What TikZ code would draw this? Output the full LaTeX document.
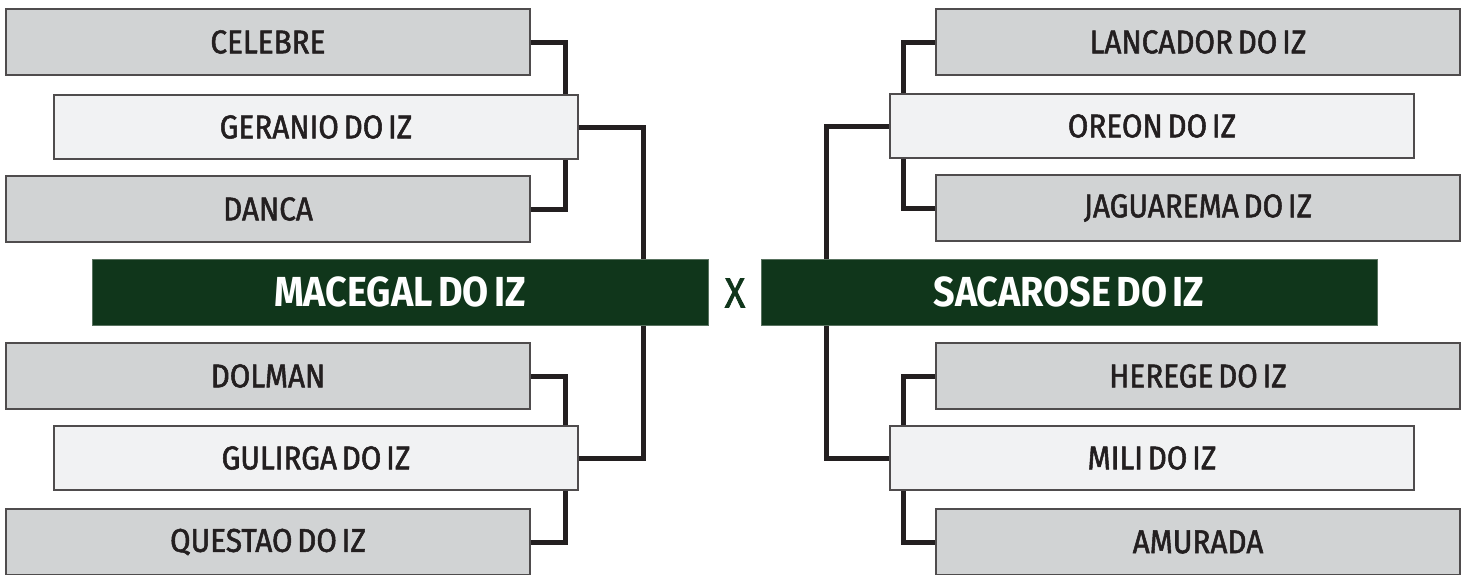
\documentclass[tikz,border=0pt]{standalone}
\usepackage{fontspec}
\setmainfont{Fira Sans}[FakeStretch=0.9, WordSpace=0.6]
\newfontfamily\namefont{Fira Sans}[FakeStretch=0.9, FakeBold=1.6, WordSpace=0.6]
\usetikzlibrary{backgrounds}
\definecolor{boxgray}{HTML}{D1D3D4}
\definecolor{boxlight}{HTML}{F1F2F3}
\definecolor{finalgreen}{HTML}{10361B}
\definecolor{inkdark}{HTML}{231F20}
\begin{document}
\begin{tikzpicture}[x=1pt, y=-1pt,
    horse/.style={draw=inkdark!80, line width=1.5pt, fill=boxgray,
                  minimum width=524pt, minimum height=66pt, inner sep=0pt,
                  text=inkdark, font=\namefont\fontsize{33}{38}\selectfont},
    sire/.style={horse, fill=boxlight, minimum height=64pt},
    final/.style={draw=finalgreen!70, line width=1pt, fill=finalgreen,
                  minimum width=616pt, minimum height=66pt, inner sep=0pt,
                  text=white, font=\fontsize{42}{48}\selectfont\bfseries},
    link/.style={draw=inkdark, line width=5pt, line join=miter}
]
  \useasboundingbox (0,0) rectangle (1469,574);

  % Left side
  \node[horse] (celebre) at (268,42)  {CELEBRE};
  \node[sire]  (geranio) at (316,127) {GERANIO DO IZ};
  \node[horse] (danca)   at (268,209) {DANCA};
  \node[final] (macegal) at (400,292) {MACEGAL DO IZ};
  \node[horse] (dolman)  at (268,376) {DOLMAN};
  \node[sire]  (gulirga) at (316,458) {GULIRGA DO IZ};
  \node[horse] (questao) at (268,542) {QUESTAO DO IZ};

  % Versus
  \node[text=finalgreen, font=\namefont\fontsize{42}{48}\selectfont] (vs) at (735,293) {X};

  % Right side
  \node[horse] (lancador)  at (1198,42)  {LANCADOR DO IZ};
  \node[sire]  (oreon)     at (1152,126) {OREON DO IZ};
  \node[horse] (jaguarema) at (1198,208) {JAGUAREMA DO IZ};
  \node[final] (sacarose)  at (1069,292) {SACAROSE DO IZ};
  \node[horse] (herege)    at (1198,376) {HEREGE DO IZ};
  \node[sire]  (mili)      at (1152,458) {MILI DO IZ};
  \node[horse] (amurada)   at (1198,542) {AMURADA};

  % Bracket columns
  \coordinate (lin)  at (565,0);
  \coordinate (lout) at (643,0);
  \coordinate (rin)  at (903,0);
  \coordinate (rout) at (826,0);

  \begin{pgfonlayer}{background}
    % Left brackets
    \draw[link] (celebre.east) -| (geranio.north -| lin);
    \draw[link] (danca.east)   -| (geranio.south -| lin);
    \draw[link] (dolman.east)  -| (gulirga.north -| lin);
    \draw[link] (questao.east) -| (gulirga.south -| lin);
    \draw[link] (geranio.east) -| (macegal.north -| lout);
    \draw[link] (macegal.south -| lout) |- (gulirga.east);

    % Right brackets
    \draw[link] (lancador.west)  -| (oreon.north -| rin);
    \draw[link] (jaguarema.west) -| (oreon.south -| rin);
    \draw[link] (herege.west)    -| (mili.north -| rin);
    \draw[link] (amurada.west)   -| (mili.south -| rin);
    \draw[link] (oreon.west) -| (sacarose.north -| rout);
    \draw[link] (sacarose.south -| rout) |- (mili.west);
  \end{pgfonlayer}
\end{tikzpicture}
\end{document}
